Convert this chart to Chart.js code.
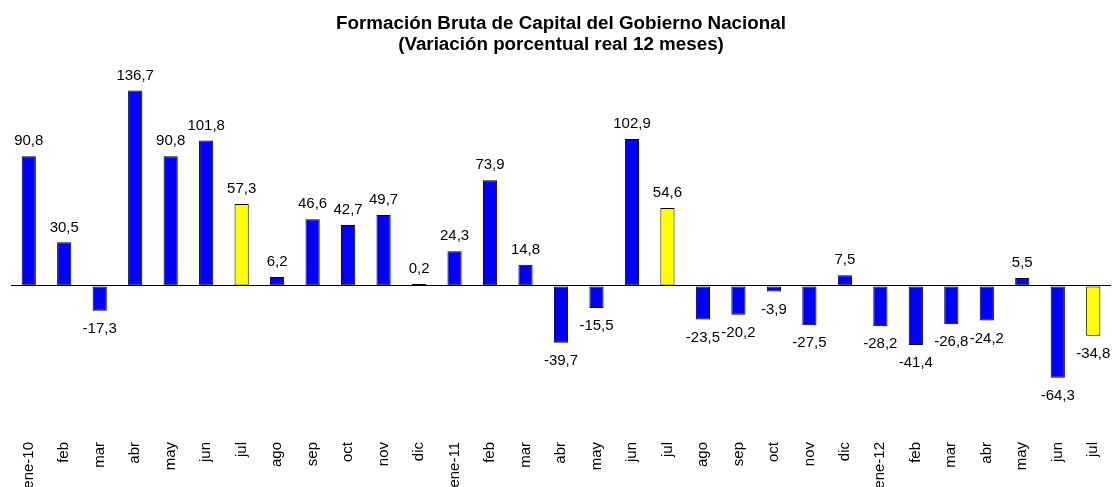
<!DOCTYPE html>
<html>
<head>
<meta charset="utf-8">
<script src="https://cdn.jsdelivr.net/npm/chart.js@4/dist/chart.umd.min.js"></script>
<style>
  html, body { margin: 0; padding: 0; background: #fff; overflow: hidden; }
  #wrap { width: 1112px; height: 487px; overflow: hidden; }
</style>
</head>
<body>
<div id="wrap">
  <canvas id="fbkChart" width="1112" height="500"></canvas>
</div>
<script>
const months = ["ene-10", "feb", "mar", "abr", "may", "jun", "jul", "ago", "sep", "oct", "nov", "dic",
  "ene-11", "feb", "mar", "abr", "may", "jun", "jul", "ago", "sep", "oct", "nov", "dic",
  "ene-12", "feb", "mar", "abr", "may", "jun", "jul"];

const variacion = [90.8, 30.5, -17.3, 136.7, 90.8, 101.8, 57.3, 6.2, 46.6, 42.7, 49.7, 0.2,
  24.3, 73.9, 14.8, -39.7, -15.5, 102.9, 54.6, -23.5, -20.2, -3.9, -27.5, 7.5,
  -28.2, -41.4, -26.8, -24.2, 5.5, -64.3, -34.8];

// july bars are highlighted
const barColors = months.map(m => m === "jul" ? "#ffff00" : "#0000ff");

const fmt = v => v.toFixed(1).replace(".", ",");

const valueLabels = {
  id: "valueLabels",
  afterDatasetsDraw(chart) {
    const ctx = chart.ctx;
    const meta = chart.getDatasetMeta(0);
    ctx.save();
    ctx.font = "15px 'Liberation Sans', Arial, sans-serif";
    ctx.fillStyle = "#000";
    ctx.textAlign = "center";
    ctx.textBaseline = "middle";
    meta.data.forEach((bar, i) => {
      const v = variacion[i];
      const y = v >= 0 ? bar.y - 15 : bar.y + 18;
      ctx.fillText(fmt(v), bar.x, y);
    });
    ctx.restore();
  }
};

new Chart(document.getElementById("fbkChart").getContext("2d"), {
  type: "bar",
  data: {
    labels: months,
    datasets: [{
      data: variacion,
      backgroundColor: barColors,
      borderColor: "#000",
      borderWidth: 1,
      borderSkipped: false,
      minBarLength: 2,
      barPercentage: 0.4,
      categoryPercentage: 1.0,
    }],
  },
  options: {
    responsive: false,
    animation: false,
    layout: { padding: { left: 11, right: 1, top: 0, bottom: 0 } },
    plugins: {
      legend: { display: false },
      tooltip: { enabled: false },
      title: {
        display: true,
        text: ["Formación Bruta de Capital del Gobierno Nacional", "(Variación porcentual real 12 meses)"],
        color: "#000",
        font: { family: "'Liberation Sans', Arial, sans-serif", size: 18.8, weight: "bold", lineHeight: 1.14 },
        padding: { top: 13, bottom: 30 },
      },
    },
    scales: {
      x: {
        grid: { display: false, drawTicks: false },
        border: { display: false },
        ticks: {
          autoSkip: false,
          minRotation: 90,
          maxRotation: 90,
          padding: 56,
          color: "#000",
          font: { family: "'Liberation Sans', Arial, sans-serif", size: 15 },
        },
        afterFit(scale) {
          scale.height = 114;
          scale.paddingLeft = 0;
          scale.paddingRight = 0;
        },
      },
      y: {
        min: -70,
        max: 140,
        ticks: { display: false, stepSize: 10 },
        border: { display: false },
        grid: {
          drawTicks: false,
          color: c => (c.tick && c.tick.value === 0 ? "#000" : "rgba(0,0,0,0)"),
          lineWidth: 1,
        },
        afterFit(scale) { scale.width = 0; },
      },
    },
  },
  plugins: [valueLabels],
});
</script>
</body>
</html>
